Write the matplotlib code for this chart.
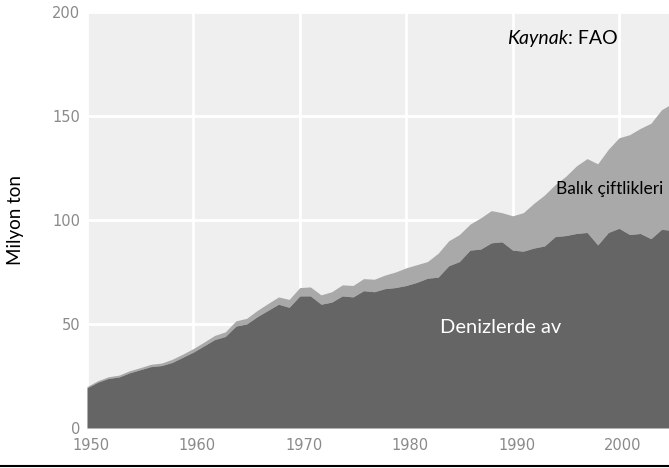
import matplotlib
matplotlib.use("Agg")
import matplotlib.pyplot as plt
from matplotlib.lines import Line2D
from matplotlib.transforms import ScaledTranslation

years = list(range(1950, 2006))

# denizlerde av (yakalama), milyon ton
capture = [19.3, 22.0, 23.8, 24.5, 26.5, 28.0, 29.5, 30.0, 31.5, 34.0,
           36.5, 39.5, 42.5, 44.0, 49.0, 50.0, 53.5, 56.5, 59.5, 58.0,
           63.5, 63.5, 59.5, 60.5, 63.5, 63.0, 66.0, 65.5, 67.0, 67.5,
           68.5, 70.0, 72.0, 72.5, 78.0, 80.0, 85.5, 86.0, 89.0, 89.5,
           85.5, 85.0, 86.5, 87.5, 92.0, 92.5, 93.5, 94.0, 88.0, 94.0,
           96.0, 93.0, 93.5, 91.0, 95.5, 95.0]

# toplam (yakalama + balik ciftlikleri)
total = [19.9, 22.7, 24.6, 25.4, 27.5, 29.0, 30.6, 31.2, 33.0, 35.5,
         38.2, 41.3, 44.5, 46.2, 51.5, 52.7, 56.5, 59.8, 63.0, 61.8,
         67.5, 67.8, 64.0, 65.5, 68.8, 68.5, 71.8, 71.5, 73.5, 75.0,
         77.0, 78.5, 80.0, 84.0, 90.0, 93.0, 98.0, 101.0, 104.5, 103.5,
         102.0, 103.5, 108.0, 112.0, 117.0, 121.0, 126.0, 129.5, 127.0, 134.0,
         139.5, 141.0, 144.0, 146.5, 153.0, 156.0]

xticks = [1950, 1960, 1970, 1980, 1990, 2000]
yticks = [0, 50, 100, 150, 200]

fig = plt.figure(figsize=(6.69, 4.68), dpi=100)
ax = fig.add_axes([0.130, 0.0855, 0.870, 0.889])
ax.set_facecolor("#efefef")

ax.fill_between(years, capture, total, color="#a9a9a9", linewidth=0, zorder=2)
ax.fill_between(years, 0, capture, color="#656565", linewidth=0, zorder=3)

ax.set_xlim(1950, 2004.7)
ax.set_ylim(0, 200)
ax.set_xticks(xticks)
ax.set_yticks(yticks)
ax.grid(True, color="white", linewidth=2, zorder=1)
ax.set_axisbelow(True)
for s in ax.spines.values():
    s.set_visible(False)
ax.tick_params(length=0, labelsize=10.5, colors="#8a8a8a")
ax.tick_params(axis="x", pad=7)
ax.tick_params(axis="y", pad=5)
for lab in ax.get_xticklabels():
    lab.set_transform(lab.get_transform() + ScaledTranslation(4/100, 0, fig.dpi_scale_trans))

ax.set_ylabel("Milyon ton", fontsize=13.5, family="Lato", labelpad=20)

ax.text(1989.5, 187, "Kaynak", style="italic", fontsize=14, family="Lato",
        ha="left", va="center", transform=ax.transData)
ax.annotate(": FAO", xy=(1, 0), xycoords=ax.texts[-1], fontsize=14, family="Lato",
            ha="left", va="bottom")
ax.text(2004.2, 115, "Balık çiftlikleri", fontsize=12.5, family="Lato",
        ha="right", va="center", zorder=5)
ax.text(1983.2, 48.5, "Denizlerde av", fontsize=14.5, family="Lato",
        color="white", ha="left", va="center", zorder=5)

fig.add_artist(Line2D([0, 1], [0.004, 0.004], color="black", linewidth=1.5,
                      transform=fig.transFigure))

fig.savefig("out.png", dpi=100)
